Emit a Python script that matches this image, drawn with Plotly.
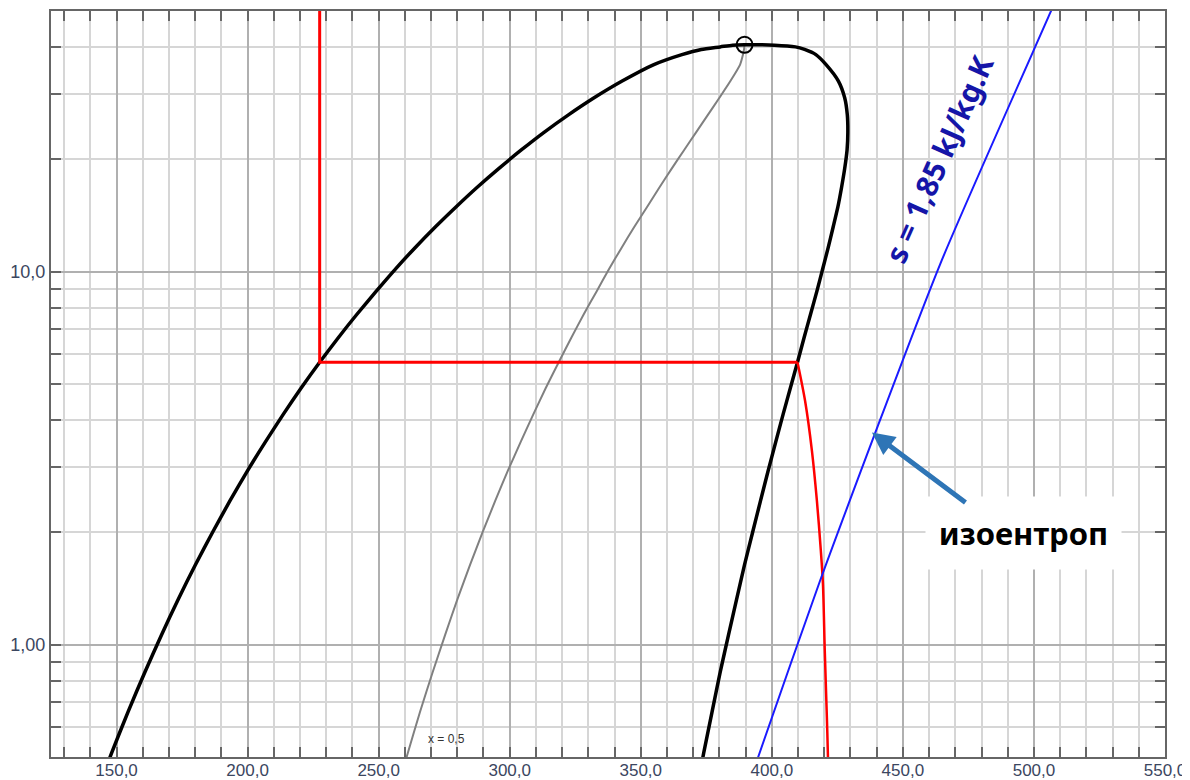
import math
import plotly.graph_objects as go

# Saturation dome (pressure in bar, enthalpy in kJ/kg)
p_sat = [0.391, 0.512, 0.661, 0.844, 1.064, 1.327, 1.639, 2.006, 2.433, 2.928,
         3.497, 4.146, 4.884, 5.717, 6.654, 7.702, 8.870, 10.166, 11.599, 13.179,
         14.915, 16.818, 18.898, 21.168, 23.641, 26.332, 29.258, 32.442, 35.912,
         38.20, 39.43, 40.06, 40.50]
h_liq = [141.9, 148.1, 154.4, 160.8, 167.2, 173.6, 180.1, 186.7, 193.3, 200.0,
         206.8, 213.6, 220.5, 227.5, 234.6, 241.8, 249.1, 256.4, 263.9, 271.6,
         279.5, 287.5, 295.8, 304.3, 313.1, 322.4, 332.2, 342.9, 355.0,
         365.7, 373.1, 380.3, 385.0]
h_vap = [370.8, 374.0, 377.2, 380.3, 383.5, 386.6, 389.6, 392.7, 395.7, 398.6,
         401.5, 404.3, 407.1, 409.8, 412.3, 414.8, 417.2, 419.4, 421.5, 423.4,
         425.2, 426.6, 427.8, 428.7, 429.0, 428.8, 427.8, 425.4, 420.7,
         416.8, 412.5, 409.0, 401.0]
h_x05 = [256.4, 261.1, 265.8, 270.6, 275.4, 280.1, 284.9, 289.7, 294.5, 299.3,
         304.2, 309.0, 313.8, 318.7, 323.5, 328.3, 333.2, 337.9, 342.7, 347.5,
         352.4, 357.1, 361.8, 366.5, 371.1, 375.6, 380.0, 384.2, 387.9,
         389.0, 389.4, 389.5, 389.6]
p_crit = 40.59
h_crit = 389.6

# Red cycle: throttling line and evaporation
cycle_h = [227.5, 227.5, 409.8]
cycle_p = [60.0, 5.717, 5.717]
# Red 20 C isotherm in the vapour region
iso_h = [409.8, 412.7, 415.3, 417.2, 418.7, 419.5, 420.2, 421.0, 421.4, 421.5]
iso_p = [5.717, 4.50, 3.31, 2.43, 1.786, 1.457, 0.963, 0.639, 0.504, 0.45]

# Isentrope s = 1,85 kJ/kg.K
s_h = [393.3, 394.8, 418.4, 464.2, 506.2, 508.1]
s_p = [0.466, 0.50, 1.484, 10.47, 49.4, 53.1]

x_ticks = [150, 200, 250, 300, 350, 400, 450, 500, 550]
x_ticktext = ["150,0", "200,0", "250,0", "300,0", "350,0", "400,0", "450,0", "500,0", "550,0"]
y_ticks = [1, 10]
y_ticktext = ["1,00", "10,0"]
y_minor = [0.6, 0.7, 0.8, 0.9, 2, 3, 4, 5, 6, 7, 8, 9, 20, 30, 40]

fig = go.Figure()

fig.add_trace(go.Scatter(
    x=h_x05 + [h_crit], y=p_sat + [p_crit], mode="lines",
    line=dict(color="#808080", width=2, shape="spline", smoothing=0.5),
    hoverinfo="skip", showlegend=False))

fig.add_trace(go.Scatter(
    x=h_liq + [h_crit] + h_vap[::-1], y=p_sat + [p_crit] + p_sat[::-1],
    mode="lines", line=dict(color="black", width=3.5, shape="spline", smoothing=0.6),
    hoverinfo="skip", showlegend=False))

fig.add_trace(go.Scatter(
    x=cycle_h, y=cycle_p, mode="lines",
    line=dict(color="#ff0000", width=3), hoverinfo="skip", showlegend=False))

fig.add_trace(go.Scatter(
    x=iso_h, y=iso_p, mode="lines",
    line=dict(color="#ff0000", width=2.5, shape="spline", smoothing=0.8),
    hoverinfo="skip", showlegend=False))

fig.add_trace(go.Scatter(
    x=s_h, y=s_p, mode="lines",
    line=dict(color="#1a1aff", width=2, shape="spline", smoothing=0.6),
    hoverinfo="skip", showlegend=False))

fig.add_trace(go.Scatter(
    x=[h_crit], y=[p_crit], mode="markers",
    marker=dict(symbol="circle-open", size=16, color="black", line=dict(width=2)),
    hoverinfo="skip", showlegend=False))

fig.add_annotation(x=276, y=math.log10(0.56), text="x = 0,5", showarrow=False,
                   font=dict(family="Liberation Sans, Arial", size=12, color="#333333"))

fig.add_annotation(x=463.5, y=1.302, text="<b>s = 1,85 kJ/kg.K</b>", showarrow=False,
                   textangle=-66,
                   font=dict(family="Noto Sans, Open Sans", size=30, color="#1515a8"))

fig.add_annotation(x=496.0, y=0.300, text="<b>изоентроп</b>", showarrow=False,
                   bgcolor="white", width=193, height=70,
                   font=dict(family="Noto Sans, Open Sans", size=31, color="black"))

fig.add_annotation(x=438.2, y=0.5687, text="", showarrow=True,
                   ax=95, ay=71, arrowhead=2, arrowsize=0.9, arrowwidth=5,
                   arrowcolor="#2e75b6", standoff=0)

axis_common = dict(
    showline=True, linecolor="#666666", linewidth=2, mirror="ticks",
    ticks="inside", ticklen=10, tickwidth=2, tickcolor="#666666",
    zeroline=False, showgrid=True, gridcolor="#b0b0b0", gridwidth=1.5,
    automargin=False,
)

fig.update_xaxes(
    range=[125, 550], tickmode="array", tickvals=x_ticks, ticktext=x_ticktext,
    tickfont=dict(family="Liberation Sans, Arial", size=17, color="#3b4660"),
    ticklabelstandoff=-3,
    minor=dict(tickmode="linear", tick0=0, dtick=10, ticks="inside", ticklen=10,
               tickwidth=2, tickcolor="#666666", showgrid=True,
               gridcolor="#d6d6d6", gridwidth=1.5),
    **axis_common)

fig.update_yaxes(
    type="log", range=[math.log10(0.5), math.log10(50)],
    tickmode="array", tickvals=y_ticks, ticktext=y_ticktext,
    tickfont=dict(family="Liberation Sans, Arial", size=18, color="#3b4660"),
    minor=dict(tickmode="array", tickvals=y_minor, ticks="inside", ticklen=10,
               tickwidth=2, tickcolor="#666666", showgrid=True,
               gridcolor="#d6d6d6", gridwidth=1.5),
    **axis_common)

# the page body adds an 8 px offset, so the figure is sized to fit the window
fig.update_layout(
    width=1182, height=772,
    margin=dict(l=43, r=25, t=3, b=23),
    plot_bgcolor="white", paper_bgcolor="white",
    showlegend=False,
)

fig.write_html("out.html")
